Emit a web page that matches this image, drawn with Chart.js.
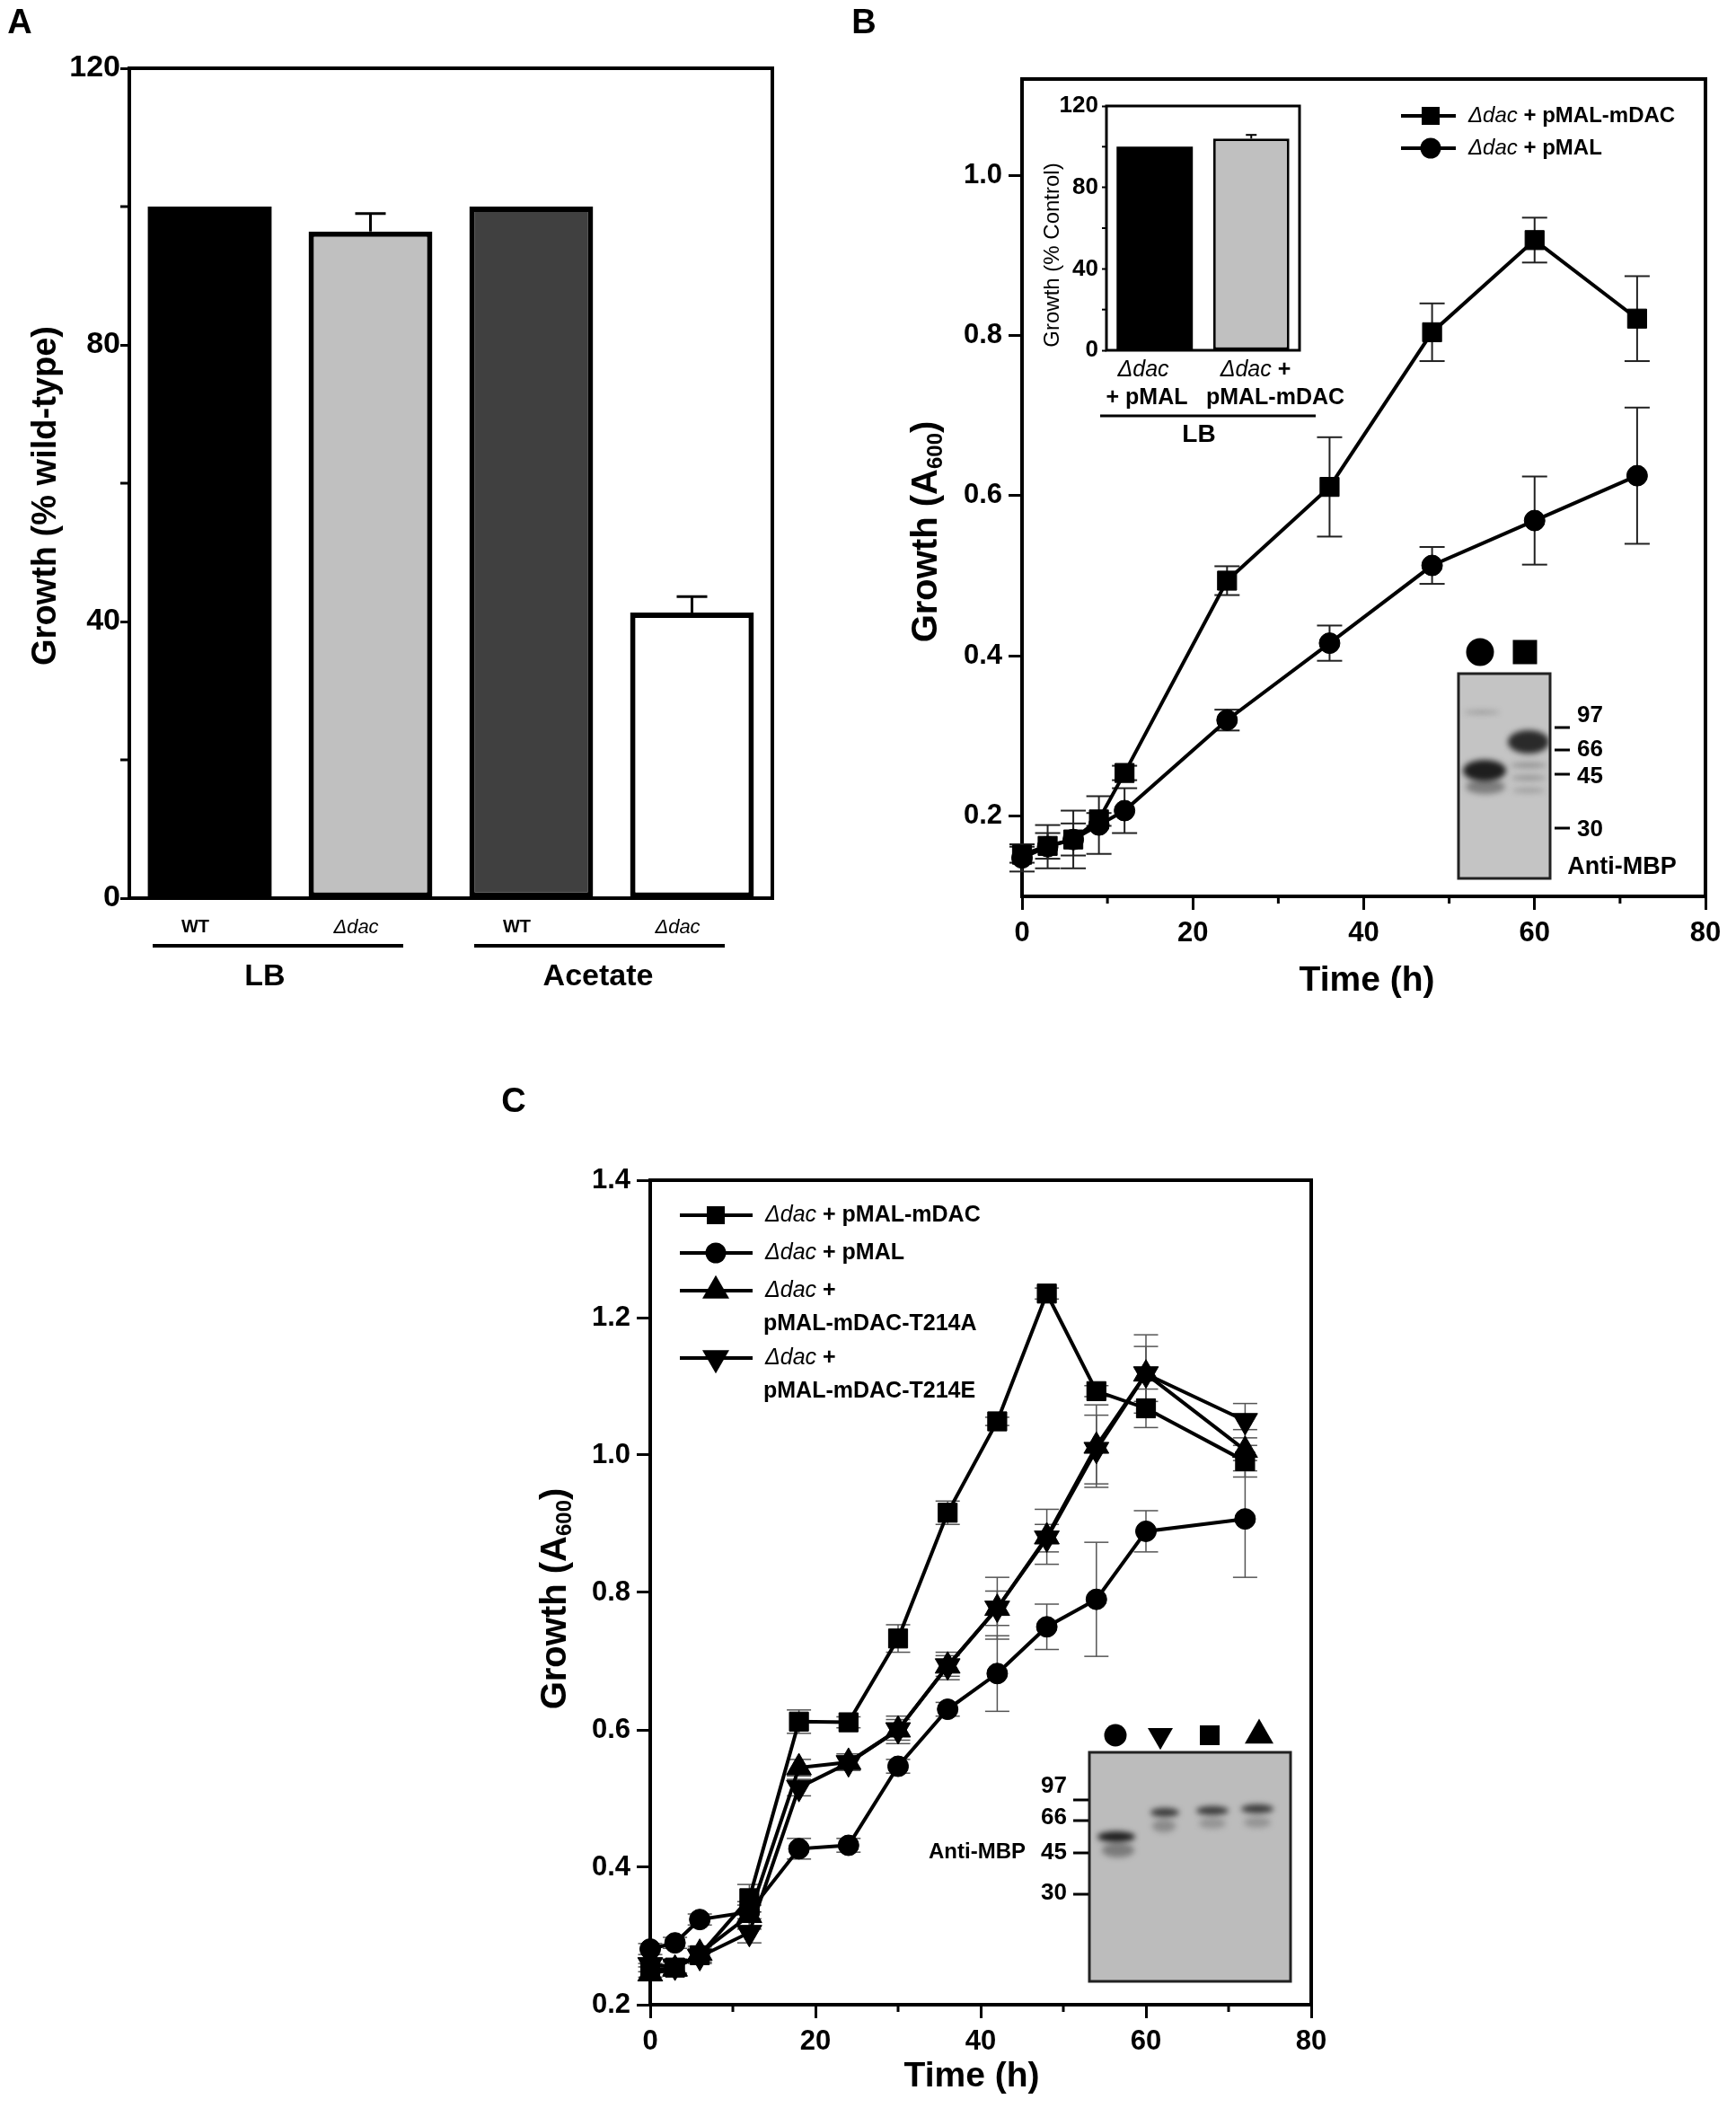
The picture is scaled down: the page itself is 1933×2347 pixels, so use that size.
<!DOCTYPE html>
<html>
<head>
<meta charset="utf-8">
<title>Growth of dac strains</title>
<script src="https://cdn.jsdelivr.net/npm/chart.js@4.4.1/dist/chart.umd.min.js"></script>
<style>
  html, body { margin: 0; padding: 0; background: #fff; }
  body { position: relative; width: 1933px; height: 2347px; overflow: hidden; }
  canvas { position: absolute; }
</style>
</head>
<body>
<canvas id="chart-a" width="900" height="1120" style="left:0px;top:0px"></canvas>
<canvas id="chart-b" width="993" height="1120" style="left:940px;top:0px"></canvas>
<canvas id="chart-b-inset" width="360" height="420" style="left:1140px;top:95px"></canvas>
<canvas id="chart-c" width="960" height="1147" style="left:540px;top:1200px"></canvas>
<script>
const FONT = '"Liberation Sans", Arial, Helvetica, sans-serif';
Chart.defaults.font.family = FONT;
Chart.defaults.color = "#000";

// panel A - growth relative to wild type
const aLabels = ["WT", "Δdac", "WT", "Δdac"];
const aGrowth = [100, 96.4, 100, 41.3];
const aError = [0, 2.6, 0, 2.3];
const aColors = ["#000000", "#c0c0c0", "#404040", "#ffffff"];
const aGroups = ["LB", "Acetate"];
const aYTicks = [0, 40, 80, 120];
const aYMinor = [20, 60, 100];

// panel B - complementation time course
const bTime = [0, 3, 6, 9, 12, 24, 36, 48, 60, 72];
const bMdac = [0.152, 0.163, 0.171, 0.196, 0.254, 0.494, 0.611, 0.804, 0.919, 0.821];
const bMdacErr = [0.01, 0.016, 0.02, 0.008, 0.009, 0.018, 0.062, 0.036, 0.028, 0.053];
const bPmal = [0.148, 0.162, 0.171, 0.189, 0.207, 0.32, 0.416, 0.513, 0.569, 0.625];
const bPmalErr = [0.017, 0.027, 0.036, 0.036, 0.028, 0.013, 0.022, 0.023, 0.055, 0.085];
const bLegend = [["Δdac + pMAL-mDAC"], ["Δdac + pMAL"]];
const bXTicks = [0, 20, 40, 60, 80];
const bXMinor = [10, 30, 50, 70];
const bYTicks = [0.2, 0.4, 0.6, 0.8, 1.0];

// panel B inset
const insetLabels = [["Δdac", "+ pMAL"], ["Δdac +", "pMAL-mDAC"]];
const insetGrowth = [100, 104];
const insetError = [0, 1.8];
const insetYTicks = [0, 40, 80, 120];
const insetYMinor = [20, 60, 100];

// western blot size markers (kDa)
const blotMarkers = ["97", "66", "45", "30"];

// panel C - point mutants time course
const cTime = [0, 3, 6, 12, 18, 24, 30, 36, 42, 48, 54, 60, 72];
const cMdac = [0.25, 0.254, 0.272, 0.355, 0.612, 0.611, 0.733, 0.916, 1.049, 1.235, 1.093, 1.068, 0.991];
const cMdacErr = [0.01, 0.01, 0.01, 0.02, 0.017, 0.008, 0.02, 0.017, 0.006, 0.008, 0.008, 0.028, 0.023];
const cPmal = [0.281, 0.29, 0.324, 0.335, 0.427, 0.432, 0.547, 0.63, 0.682, 0.75, 0.79, 0.889, 0.907];
const cPmalErr = [0.008, 0.008, 0.008, 0.01, 0.015, 0.01, 0.01, 0.01, 0.055, 0.033, 0.083, 0.03, 0.085];
const cT214A = [0.245, 0.252, 0.275, 0.33, 0.545, 0.553, 0.6, 0.693, 0.777, 0.881, 1.013, 1.118, 1.007];
const cT214AErr = [0.01, 0.01, 0.01, 0.02, 0.012, 0.012, 0.02, 0.02, 0.045, 0.04, 0.06, 0.057, 0.03];
const cT214E = [0.258, 0.256, 0.27, 0.305, 0.516, 0.552, 0.6, 0.693, 0.777, 0.879, 1.008, 1.118, 1.05];
const cT214EErr = [0.01, 0.01, 0.01, 0.015, 0.012, 0.01, 0.015, 0.015, 0.025, 0.02, 0.05, 0.04, 0.025];
const cLegend = [["Δdac + pMAL-mDAC"], ["Δdac + pMAL"], ["Δdac +", "pMAL-mDAC-T214A"], ["Δdac +", "pMAL-mDAC-T214E"]];
const cXTicks = [0, 20, 40, 60, 80];
const cXMinor = [10, 30, 50, 70];
const cYTicks = [0.2, 0.4, 0.6, 0.8, 1.0, 1.2, 1.4];

const bold = (s) => `bold ${s}px ${FONT}`;
const ital = (s) => `italic ${s}px ${FONT}`;
const reg = (s) => `${s}px ${FONT}`;

function series(xs, ys) {
  return xs.map((x, i) => ({ x, y: ys[i] }));
}

// text made of several runs, each [text, font, dy]
function txt(ctx, parts, x, y, opts = {}) {
  ctx.save();
  ctx.translate(x, y);
  if (opts.rotate) ctx.rotate(opts.rotate);
  ctx.textBaseline = "middle";
  ctx.textAlign = "left";
  ctx.fillStyle = "#000";
  let w = 0;
  parts.forEach((p) => {
    ctx.font = p[1];
    w += ctx.measureText(p[0]).width;
  });
  let cx = opts.align === "left" ? 0 : opts.align === "right" ? -w : -w / 2;
  parts.forEach((p) => {
    ctx.font = p[1];
    ctx.fillText(p[0], cx, p[2] || 0);
    cx += ctx.measureText(p[0]).width;
  });
  ctx.restore();
}

// "Δdac" italic, the rest bold
function richParts(line, size) {
  if (line.startsWith("Δdac")) {
    return [["Δdac", ital(size)], [line.slice(4), bold(size)]];
  }
  return [[line, bold(size)]];
}

function line(ctx, x1, y1, x2, y2, w) {
  ctx.lineWidth = w;
  ctx.beginPath();
  ctx.moveTo(x1, y1);
  ctx.lineTo(x2, y2);
  ctx.stroke();
}

function marker(ctx, style, x, y, size) {
  ctx.fillStyle = "#000";
  ctx.beginPath();
  if (style === "circle") {
    ctx.arc(x, y, size / 2, 0, 2 * Math.PI);
  } else if (style === "rect") {
    ctx.rect(x - size / 2, y - size / 2, size, size);
  } else {
    const h = size * 0.866;
    const d = style === "triangleDown" ? -1 : 1;
    ctx.moveTo(x, y - (d * h * 2) / 3);
    ctx.lineTo(x + size / 2, y + (d * h) / 3);
    ctx.lineTo(x - size / 2, y + (d * h) / 3);
    ctx.closePath();
  }
  ctx.fill();
}

function styleOf(ds) {
  if (ds.pointStyle === "triangle" && ds.pointRotation === 180) return "triangleDown";
  return ds.pointStyle;
}

// move to page coordinates
function toPage(chart) {
  chart.ctx.translate(-chart.canvas.offsetLeft, -chart.canvas.offsetTop);
}

function frame(chart, w) {
  const { ctx, chartArea: a } = chart;
  ctx.save();
  ctx.strokeStyle = "#000";
  ctx.lineWidth = w;
  ctx.strokeRect(a.left, a.top, a.right - a.left, a.bottom - a.top);
  ctx.restore();
}

function minorTicks(chart, axis, values, len, w) {
  const { ctx, chartArea: a } = chart;
  const s = chart.scales[axis];
  ctx.save();
  ctx.strokeStyle = "#000";
  values.forEach((v) => {
    const p = s.getPixelForValue(v);
    if (axis === "x") line(ctx, p, a.bottom, p, a.bottom + len, w);
    else line(ctx, a.left, p, a.left - len, p, w);
  });
  ctx.restore();
}

function errorBars(chart, cap, w, color) {
  const ctx = chart.ctx;
  const y = chart.scales.y;
  ctx.save();
  ctx.strokeStyle = color;
  chart.data.datasets.forEach((ds, di) => {
    if (!ds.errors) return;
    chart.getDatasetMeta(di).data.forEach((pt, i) => {
      const v = ds.data[i].y;
      const e = ds.errors[i];
      const hi = y.getPixelForValue(v + e);
      const lo = y.getPixelForValue(v - e);
      line(ctx, pt.x, hi, pt.x, lo, w);
      line(ctx, pt.x - cap / 2, hi, pt.x + cap / 2, hi, w);
      line(ctx, pt.x - cap / 2, lo, pt.x + cap / 2, lo, w);
    });
  });
  ctx.restore();
}

function drawLegend(chart, labels, rows, x1, x2, mx, tx, size, step) {
  const ctx = chart.ctx;
  ctx.save();
  ctx.strokeStyle = "#000";
  chart.data.datasets.forEach((ds, i) => {
    const y = rows[i];
    line(ctx, x1, y, x2, y, 4);
    const st = styleOf(ds);
    marker(ctx, st, mx, y, st === "circle" ? 23 : st === "rect" ? 20 : 30);
    labels[i].forEach((ln, k) => {
      txt(ctx, richParts(ln, size), tx + (k ? -2 : 0), y + k * step, { align: "left" });
    });
  });
  ctx.restore();
}

function drawBlot(ctx, box, bg, bands) {
  ctx.save();
  ctx.fillStyle = bg;
  ctx.fillRect(box.x, box.y, box.w, box.h);
  ctx.beginPath();
  ctx.rect(box.x, box.y, box.w, box.h);
  ctx.clip();
  ctx.filter = "blur(3px)";
  bands.forEach((b) => {
    ctx.fillStyle = b.c;
    ctx.beginPath();
    ctx.ellipse(b.x, b.y, b.w / 2, b.h / 2, 0, 0, 2 * Math.PI);
    ctx.fill();
  });
  ctx.restore();
  ctx.save();
  ctx.strokeStyle = "#222";
  ctx.lineWidth = 3;
  ctx.strokeRect(box.x, box.y, box.w, box.h);
  ctx.restore();
}

const baseOptions = {
  responsive: false,
  animation: false,
  devicePixelRatio: 1,
  events: [],
  plugins: { legend: { display: false }, tooltip: { enabled: false } },
};

// ---------------- panel A ----------------
const panelA = {
  id: "panelA",
  afterDraw(chart) {
    const ctx = chart.ctx;
    const y = chart.scales.y;
    frame(chart, 4);
    minorTicks(chart, "y", aYMinor, 10, 3);
    ctx.save();
    ctx.strokeStyle = "#000";
    chart.getDatasetMeta(0).data.forEach((bar, i) => {
      if (!aError[i]) return;
      const top = y.getPixelForValue(aGrowth[i]);
      const cap = y.getPixelForValue(aGrowth[i] + aError[i]);
      line(ctx, bar.x, top, bar.x, cap, 3);
      line(ctx, bar.x - 17, cap, bar.x + 17, cap, 3);
    });
    toPage(chart);
    line(ctx, 170, 1053, 449, 1053, 4);
    line(ctx, 528, 1053, 807, 1053, 4);
    txt(ctx, [[aGroups[0], bold(34)]], 295, 1088);
    txt(ctx, [[aGroups[1], bold(34)]], 666, 1088);
    txt(ctx, [["Growth (% wild-type)", bold(38)]], 52, 552, { rotate: -Math.PI / 2 });
    txt(ctx, [["A", bold(38)]], 22, 27);
    ctx.restore();
  },
};

new Chart(document.getElementById("chart-a"), {
  type: "bar",
  data: {
    labels: aLabels,
    datasets: [
      {
        data: aGrowth,
        backgroundColor: aColors,
        borderColor: "#000",
        borderWidth: [0, 6, 6, 6],
        borderSkipped: false,
        barPercentage: 0.77,
        categoryPercentage: 1,
      },
    ],
  },
  options: {
    ...baseOptions,
    layout: { padding: { left: 0, top: 76, right: 40, bottom: 0 } },
    scales: {
      x: {
        grid: { display: false },
        border: { display: false },
        ticks: {
          color: "#000",
          padding: 12,
          labelOffset: -16,
          font: (c) => (c.index % 2 ? { size: 22, style: "italic" } : { size: 20, weight: "bold" }),
        },
        afterFit: (s) => {
          s.height = 120;
        },
      },
      y: {
        min: 0,
        max: 120,
        afterBuildTicks: (s) => {
          s.ticks = aYTicks.map((v) => ({ value: v }));
        },
        ticks: { color: "#000", padding: 0, font: { size: 34, weight: "bold" } },
        grid: { drawOnChartArea: false, tickLength: 10, tickWidth: 3, tickColor: "#000" },
        border: { display: false },
        afterFit: (s) => {
          s.width = 144;
        },
      },
    },
  },
  plugins: [panelA],
});

// ---------------- panel B ----------------
const lineStyle = {
  borderColor: "#000",
  backgroundColor: "#000",
  borderWidth: 4,
  pointBorderColor: "#000",
  pointBackgroundColor: "#000",
  pointBorderWidth: 1,
  tension: 0,
  clip: false,
};

function timeScales(xTicks, yTicks, yMin, yMax, yWidth, xHeight) {
  return {
    x: {
      type: "linear",
      min: 0,
      max: 80,
      afterBuildTicks: (s) => {
        s.ticks = xTicks.map((v) => ({ value: v }));
      },
      ticks: { color: "#000", padding: 8, font: { size: 31, weight: "bold" } },
      grid: { drawOnChartArea: false, tickLength: 15, tickWidth: 3, tickColor: "#000" },
      border: { display: false },
      afterFit: (s) => {
        s.height = xHeight;
      },
    },
    y: {
      min: yMin,
      max: yMax,
      afterBuildTicks: (s) => {
        s.ticks = yTicks.map((v) => ({ value: v }));
      },
      ticks: { color: "#000", padding: 7, font: { size: 31, weight: "bold" }, callback: (v) => v.toFixed(1) },
      grid: { drawOnChartArea: false, tickLength: 15, tickWidth: 3, tickColor: "#000" },
      border: { display: false },
      afterFit: (s) => {
        s.width = yWidth;
      },
    },
  };
}

const panelB = {
  id: "panelB",
  beforeDatasetsDraw(chart) {
    frame(chart, 4);
    minorTicks(chart, "x", bXMinor, 8, 3);
    errorBars(chart, 28, 2, "#222");
  },
  afterDraw(chart) {
    const ctx = chart.ctx;
    ctx.save();
    toPage(chart);
    drawLegend(chart, bLegend, [129, 165], 1560, 1621, 1593, 1635, 24, 0);
    // anti-MBP blot
    drawBlot(ctx, { x: 1624, y: 750, w: 102, h: 228 }, "#c4c4c4", [
      { x: 1650, y: 793, w: 40, h: 3, c: "rgba(90,90,90,0.6)" },
      { x: 1654, y: 876, w: 44, h: 16, c: "rgba(80,80,80,0.6)" },
      { x: 1653, y: 858, w: 48, h: 24, c: "#1e1e1e" },
      { x: 1702, y: 852, w: 40, h: 5, c: "rgba(90,90,90,0.55)" },
      { x: 1702, y: 866, w: 38, h: 5, c: "rgba(90,90,90,0.5)" },
      { x: 1702, y: 880, w: 36, h: 5, c: "rgba(100,100,100,0.45)" },
      { x: 1702, y: 826, w: 46, h: 26, c: "#2a2a2a" },
    ]);
    marker(ctx, "circle", 1648, 726, 31);
    marker(ctx, "rect", 1698, 726, 27);
    ctx.strokeStyle = "#000";
    const tickY = [810, 835, 862, 922];
    const labY = [797, 835, 865, 924];
    blotMarkers.forEach((m, i) => {
      line(ctx, 1731, tickY[i], 1748, tickY[i], 3);
      txt(ctx, [[m, bold(26)]], 1756, labY[i], { align: "left" });
    });
    txt(ctx, [["Anti-MBP", bold(27)]], 1806, 966);
    txt(ctx, [["Growth (A", bold(40)], ["600", bold(24), 10], [")", bold(40)]], 1032, 592, { rotate: -Math.PI / 2 });
    txt(ctx, [["Time (h)", bold(39)]], 1522, 1092);
    txt(ctx, [["B", bold(38)]], 962, 27);
    ctx.restore();
  },
};

new Chart(document.getElementById("chart-b"), {
  type: "line",
  data: {
    datasets: [
      { ...lineStyle, label: bLegend[0].join(" "), data: series(bTime, bMdac), errors: bMdacErr, pointStyle: "rect", pointRadius: 15 },
      { ...lineStyle, label: bLegend[1].join(" "), data: series(bTime, bPmal), errors: bPmalErr, pointStyle: "circle", pointRadius: 11.5 },
    ],
  },
  options: {
    ...baseOptions,
    layout: { padding: { left: 0, top: 88, right: 34, bottom: 0 } },
    scales: timeScales(bXTicks, bYTicks, 0.1, 1.12, 198, 122),
  },
  plugins: [panelB],
});

// ---------------- panel B inset ----------------
const panelInset = {
  id: "panelInset",
  afterDraw(chart) {
    const ctx = chart.ctx;
    const y = chart.scales.y;
    frame(chart, 3);
    minorTicks(chart, "y", insetYMinor, 5, 2);
    ctx.save();
    ctx.strokeStyle = "#000";
    chart.getDatasetMeta(0).data.forEach((bar, i) => {
      if (!insetError[i]) return;
      const top = y.getPixelForValue(insetGrowth[i]);
      const cap = y.getPixelForValue(insetGrowth[i] + insetError[i]);
      line(ctx, bar.x, top, bar.x, cap, 2);
      line(ctx, bar.x - 6, cap, bar.x + 6, cap, 2);
    });
    toPage(chart);
    txt(ctx, richParts(insetLabels[0][0], 25), 1273, 412);
    txt(ctx, richParts(insetLabels[0][1], 25), 1277, 443);
    txt(ctx, richParts(insetLabels[1][0], 25), 1398, 412);
    txt(ctx, richParts(insetLabels[1][1], 25), 1420, 443);
    line(ctx, 1225, 463, 1465, 463, 3);
    txt(ctx, [["LB", bold(28)]], 1335, 484);
    txt(ctx, [["Growth (% Control)", reg(24)]], 1172, 284, { rotate: -Math.PI / 2 });
    ctx.restore();
  },
};

new Chart(document.getElementById("chart-b-inset"), {
  type: "bar",
  data: {
    labels: insetLabels,
    datasets: [
      {
        data: insetGrowth,
        backgroundColor: ["#000000", "#c0c0c0"],
        borderColor: "#000",
        borderWidth: [0, 3],
        borderSkipped: false,
        barPercentage: 0.79,
        categoryPercentage: 1,
      },
    ],
  },
  options: {
    ...baseOptions,
    layout: { padding: { left: 0, top: 23, right: 53, bottom: 0 } },
    scales: {
      x: {
        grid: { display: false },
        border: { display: false },
        ticks: { display: false },
        afterFit: (s) => {
          s.height = 125;
        },
      },
      y: {
        min: 0,
        max: 120,
        afterBuildTicks: (s) => {
          s.ticks = insetYTicks.map((v) => ({ value: v }));
        },
        ticks: { color: "#000", padding: 4, font: { size: 26, weight: "bold" } },
        grid: { drawOnChartArea: false, tickLength: 5, tickWidth: 2, tickColor: "#000" },
        border: { display: false },
        afterFit: (s) => {
          s.width = 92;
        },
      },
    },
  },
  plugins: [panelInset],
});

// ---------------- panel C ----------------
const panelC = {
  id: "panelC",
  beforeDatasetsDraw(chart) {
    frame(chart, 4);
    minorTicks(chart, "x", cXMinor, 8, 3);
    errorBars(chart, 27, 1.5, "#555");
  },
  afterDraw(chart) {
    const ctx = chart.ctx;
    ctx.save();
    toPage(chart);
    drawLegend(chart, cLegend, [1353, 1395, 1437, 1512], 757, 838, 797, 852, 25, 37);
    drawBlot(ctx, { x: 1213, y: 1951, w: 224, h: 255 }, "#bcbcbc", [
      { x: 1245, y: 2060, w: 36, h: 16, c: "rgba(70,70,70,0.55)" },
      { x: 1243, y: 2045, w: 42, h: 12, c: "#1e1e1e" },
      { x: 1296, y: 2033, w: 26, h: 14, c: "rgba(90,90,90,0.5)" },
      { x: 1297, y: 2018, w: 32, h: 10, c: "#3a3a3a" },
      { x: 1350, y: 2030, w: 30, h: 12, c: "rgba(100,100,100,0.45)" },
      { x: 1350, y: 2016, w: 36, h: 10, c: "#3a3a3a" },
      { x: 1400, y: 2029, w: 30, h: 12, c: "rgba(100,100,100,0.45)" },
      { x: 1400, y: 2014, w: 36, h: 10, c: "#3a3a3a" },
    ]);
    marker(ctx, "circle", 1242, 1932, 25);
    marker(ctx, "triangleDown", 1292, 1932, 28);
    marker(ctx, "rect", 1347, 1932, 22);
    marker(ctx, "triangle", 1402, 1932, 32);
    ctx.strokeStyle = "#000";
    const tickY = [2004, 2027, 2063, 2109];
    const labY = [1989, 2024, 2063, 2108];
    blotMarkers.forEach((m, i) => {
      line(ctx, 1195, tickY[i], 1212, tickY[i], 3);
      txt(ctx, [[m, bold(26)]], 1188, labY[i], { align: "right" });
    });
    txt(ctx, [["Anti-MBP", bold(24)]], 1142, 2062, { align: "right" });
    txt(ctx, [["Growth (A", bold(40)], ["600", bold(24), 10], [")", bold(40)]], 619, 1780, { rotate: -Math.PI / 2 });
    txt(ctx, [["Time (h)", bold(39)]], 1082, 2312);
    txt(ctx, [["C", bold(38)]], 572, 1228);
    ctx.restore();
  },
};

new Chart(document.getElementById("chart-c"), {
  type: "line",
  data: {
    datasets: [
      { ...lineStyle, label: cLegend[0].join(" "), data: series(cTime, cMdac), errors: cMdacErr, pointStyle: "rect", pointRadius: 15 },
      { ...lineStyle, label: cLegend[1].join(" "), data: series(cTime, cPmal), errors: cPmalErr, pointStyle: "circle", pointRadius: 11.5 },
      { ...lineStyle, label: cLegend[2].join(" "), data: series(cTime, cT214A), errors: cT214AErr, pointStyle: "triangle", pointRadius: 16 },
      { ...lineStyle, label: cLegend[3].join(" "), data: series(cTime, cT214E), errors: cT214EErr, pointStyle: "triangle", pointRotation: 180, pointRadius: 16 },
    ],
  },
  options: {
    ...baseOptions,
    layout: { padding: { left: 0, top: 114, right: 40, bottom: 0 } },
    scales: timeScales(cXTicks, cYTicks, 0.2, 1.4, 184, 115),
  },
  plugins: [panelC],
});
</script>
</body>
</html>
